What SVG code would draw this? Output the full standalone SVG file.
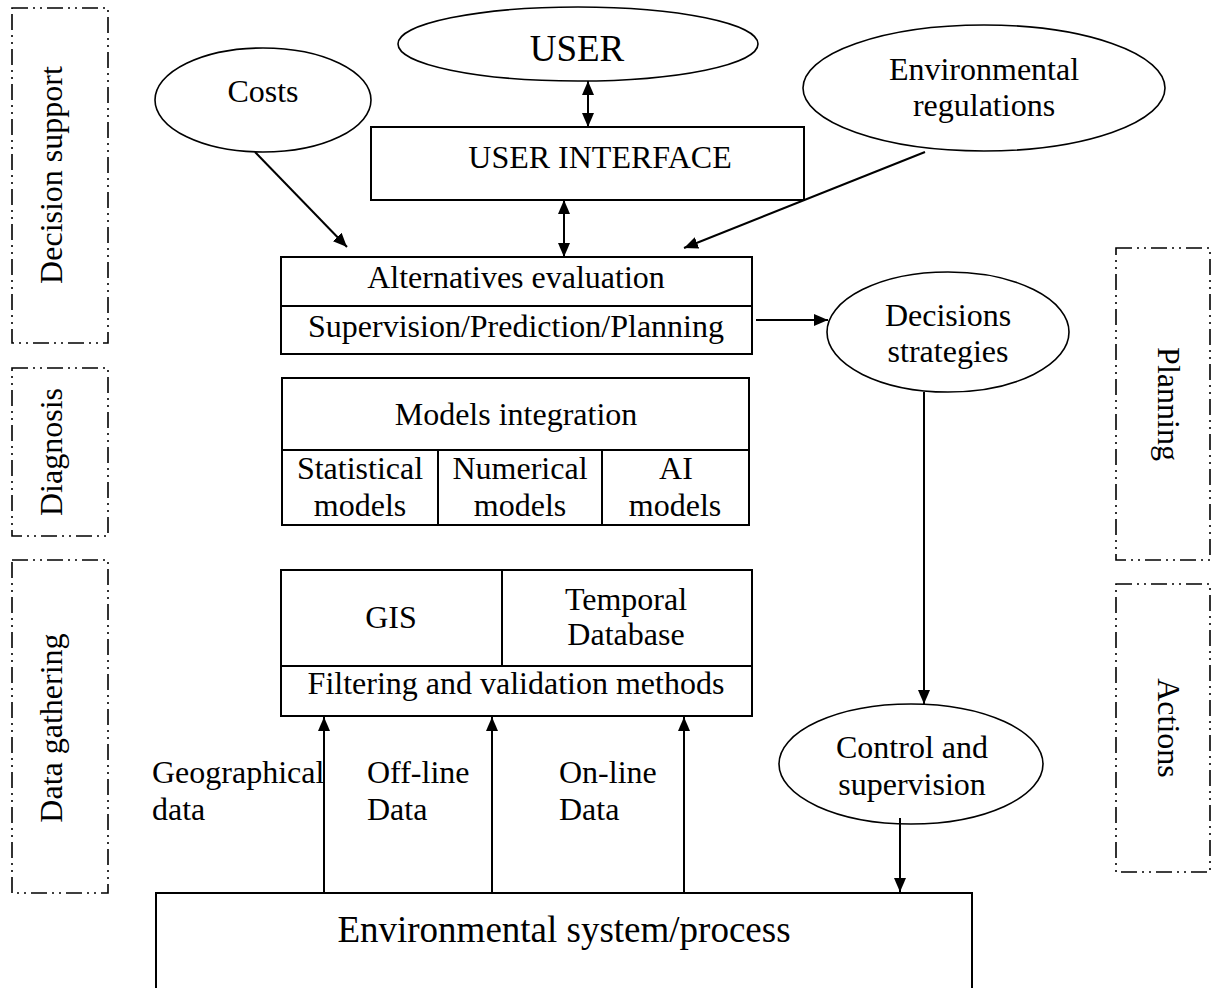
<svg xmlns="http://www.w3.org/2000/svg" width="1212" height="988" viewBox="0 0 1212 988">
<style>
text{font-family:"Liberation Serif","Times New Roman",serif;font-size:32px;fill:#000;text-anchor:middle}
.box{fill:#fff;stroke:#000;stroke-width:2}
.ell{fill:#fff;stroke:#000;stroke-width:1.6}
.zone{fill:none;stroke:#000;stroke-width:1.6;stroke-dasharray:16 5 2 5 2 5}
.conn{stroke:#000;stroke-width:2;fill:none}
.l{text-anchor:start}
</style>
<defs>
<marker id="ah" viewBox="0 0 14 12" refX="14" refY="6" markerWidth="14" markerHeight="12" markerUnits="userSpaceOnUse" orient="auto-start-reverse">
<path d="M0,0 L14,6 L0,12 z" fill="#000"/>
</marker>
</defs>

<g id="zone-decision-support">
<rect class="zone" x="12" y="8" width="96" height="335"/>
<text transform="translate(62,175) rotate(-90)">Decision support</text>
</g>
<g id="zone-diagnosis">
<rect class="zone" x="12" y="368" width="96" height="168"/>
<text transform="translate(62,452) rotate(-90)">Diagnosis</text>
</g>
<g id="zone-data-gathering">
<rect class="zone" x="12" y="560" width="96" height="333"/>
<text transform="translate(62,728) rotate(-90)">Data gathering</text>
</g>
<g id="zone-planning">
<rect class="zone" x="1116" y="248" width="94" height="312"/>
<text transform="translate(1158,404) rotate(90)">Planning</text>
</g>
<g id="zone-actions">
<rect class="zone" x="1116" y="584" width="94" height="288"/>
<text transform="translate(1158,728) rotate(90)">Actions</text>
</g>

<g id="user">
<ellipse class="ell" cx="578" cy="44" rx="180" ry="37"/>
<text x="577" y="61" style="font-size:37px">USER</text>
</g>
<g id="costs">
<ellipse class="ell" cx="263" cy="100" rx="108" ry="52"/>
<text x="263" y="102">Costs</text>
</g>
<g id="env-regulations">
<ellipse class="ell" cx="984" cy="88" rx="181" ry="63"/>
<text x="984" y="80">Environmental</text>
<text x="984" y="116">regulations</text>
</g>
<g id="user-interface">
<rect class="box" x="371" y="127" width="433" height="73"/>
<text x="600" y="168">USER INTERFACE</text>
</g>
<g id="alternatives">
<rect class="box" x="281" y="257" width="471" height="97"/>
<line class="conn" x1="281" y1="306" x2="752" y2="306"/>
<text x="516" y="288">Alternatives evaluation</text>
<text x="516" y="337">Supervision/Prediction/Planning</text>
</g>
<g id="decisions">
<ellipse class="ell" cx="948" cy="332" rx="121" ry="60"/>
<text x="948" y="326">Decisions</text>
<text x="948" y="362">strategies</text>
</g>
<g id="models">
<rect class="box" x="282" y="378" width="467" height="147"/>
<line class="conn" x1="282" y1="450" x2="749" y2="450"/>
<line class="conn" x1="438" y1="450" x2="438" y2="525"/>
<line class="conn" x1="602" y1="450" x2="602" y2="525"/>
<text x="516" y="425">Models integration</text>
<text x="360" y="479">Statistical</text>
<text x="360" y="516">models</text>
<text x="520" y="479">Numerical</text>
<text x="520" y="516">models</text>
<text x="676" y="479">AI</text>
<text x="675" y="516">models</text>
</g>
<g id="data">
<rect class="box" x="281" y="570" width="471" height="146"/>
<line class="conn" x1="281" y1="666" x2="752" y2="666"/>
<line class="conn" x1="502" y1="570" x2="502" y2="666"/>
<text x="391" y="628">GIS</text>
<text x="626" y="610">Temporal</text>
<text x="626" y="645">Database</text>
<text x="516" y="694">Filtering and validation methods</text>
</g>
<g id="control">
<ellipse class="ell" cx="911" cy="764" rx="132" ry="60"/>
<text x="912" y="758">Control and</text>
<text x="912" y="795">supervision</text>
</g>
<g id="env-system">
<rect class="box" x="156" y="893" width="816" height="120"/>
<text x="564" y="942" style="font-size:37px">Environmental system/process</text>
</g>

<g id="connectors">
<line class="conn" x1="588" y1="81" x2="588" y2="127" marker-start="url(#ah)" marker-end="url(#ah)"/>
<line class="conn" x1="564" y1="200" x2="564" y2="257" marker-start="url(#ah)" marker-end="url(#ah)"/>
<line class="conn" x1="255" y1="152" x2="347" y2="247" marker-end="url(#ah)"/>
<line class="conn" x1="925" y1="152" x2="684" y2="248" marker-end="url(#ah)"/>
<line class="conn" x1="756" y1="320" x2="828" y2="320" marker-end="url(#ah)"/>
<line class="conn" x1="924" y1="392" x2="924" y2="704" marker-end="url(#ah)"/>
<line class="conn" x1="900" y1="818" x2="900" y2="892" marker-end="url(#ah)"/>
<line class="conn" x1="324" y1="893" x2="324" y2="717" marker-end="url(#ah)"/>
<line class="conn" x1="492" y1="893" x2="492" y2="717" marker-end="url(#ah)"/>
<line class="conn" x1="684" y1="893" x2="684" y2="717" marker-end="url(#ah)"/>
</g>
<g id="labels">
<text class="l" x="152" y="783">Geographical</text>
<text class="l" x="152" y="820">data</text>
<text class="l" x="367" y="783">Off-line</text>
<text class="l" x="367" y="820">Data</text>
<text class="l" x="559" y="783">On-line</text>
<text class="l" x="559" y="820">Data</text>
</g>
</svg>
